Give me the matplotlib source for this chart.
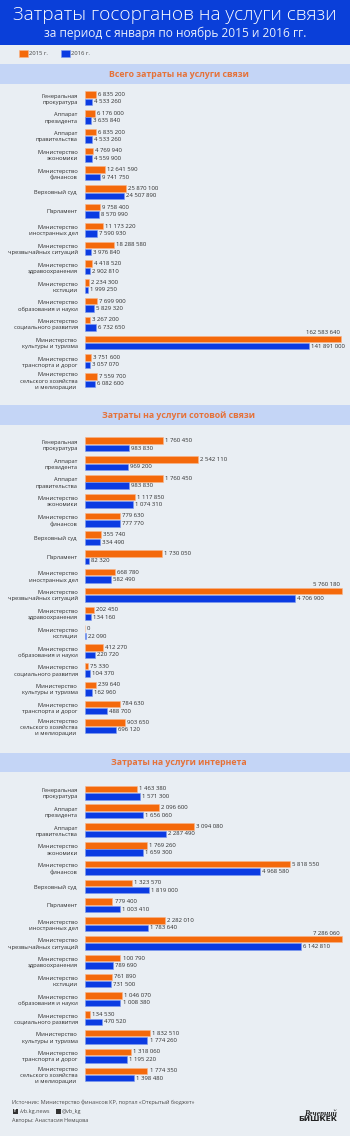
import matplotlib
matplotlib.use("Agg")
import matplotlib.pyplot as plt
from matplotlib.patches import Rectangle

W, H = 350, 1136
FONT = ["Open Sans", "DejaVu Sans"]
plt.rcParams["font.family"] = FONT

TITLE = "Затраты госорганов на услуги связи"
SUBTITLE = "за период с января по ноябрь 2015 и 2016 гг."
YEARS = ["2015 г.", "2016 г."]

AGENCIES = [
    "Генеральная\nпрокуратура", "Аппарат\nпрезидента", "Аппарат\nправительства",
    "Министерство\nэкономики", "Министерство\nфинансов", "Верховный суд ", "Парламент",
    "Министерство\nиностранных дел", "Министерство\nчрезвычайных ситуаций",
    "Министерство\nздравоохранения", "Министерство\nюстиции",
    "Министерство\nобразования и науки", "Министерство\nсоциального развития",
    "Министерство \nкультуры и туризма", "Министерство\nтранспорта и дорог",
    "Министерство\nсельского хозяйства\nи мелиорации ",
]

SECTION_TITLES = ["Всего затраты на услуги связи", "Затраты на услуги сотовой связи", "Затраты на услуги интернета"]

TOTAL_2015 = [6835200, 6176000, 6835200, 4769940, 12641590, 25870100, 9758400, 11173220,
              18288580, 4418520, 2234300, 7699900, 3267200, 162583640, 3751600, 7559700]
TOTAL_2016 = [4533260, 3635840, 4533260, 4559900, 9741750, 24507890, 8570990, 7590930,
              3976840, 2902810, 1999250, 5829320, 6732650, 141891000, 3057070, 6082600]

CELL_2015 = [1760450, 2542110, 1760450, 1117850, 779630, 355740, 1730050, 668780,
             5760180, 202450, 0, 412270, 75330, 239640, 784630, 903650]
CELL_2016 = [983830, 969200, 983830, 1074310, 777770, 334490, 82320, 582490,
             4706900, 134160, 22090, 220720, 104370, 162960, 488700, 696120]

NET_2015 = [1463380, 2096600, 3094080, 1769260, 5818550, 1323570, 779400, 2282010,
            7286060, 100790, 761890, 1046070, 134530, 1832510, 1318060, 1774350]
# the picture prints "100 790" for health but draws that bar about ten times longer
NET_2015_DRAWN = [1463380, 2096600, 3094080, 1769260, 5818550, 1323570, 779400, 2282010,
                  7286060, 1007900, 761890, 1046070, 134530, 1832510, 1318060, 1774350]
NET_2016 = [1571300, 1656060, 2287490, 1659300, 4968580, 1819000, 1003410, 1783640,
            6142810, 789690, 731500, 1008380, 470520, 1774260, 1195220, 1398480]

ORANGE, BLUE = "#F4690B", "#0B3BE2"
ORANGE_E, BLUE_E = "#F9B48A", "#7E9BEF"
BG, HEADER, BAND = "#E9EEF3", "#0A3FD9", "#C4D5F6"
TXT = "#2E2E2E"

fig = plt.figure(figsize=(W / 100, H / 100), dpi=100, facecolor=BG)

# page layer in pixel units
page = fig.add_axes([0, 0, 1, 1], zorder=0)
page.set_xlim(0, W)
page.set_ylim(H, 0)
page.axis("off")
page.add_patch(Rectangle((0, 0), W, 44.5, fc=HEADER, ec="none"))
page.text(175, 15.5, TITLE, color="white", fontsize=13.7, ha="center", va="center", fontweight="light")
page.text(175.5, 33.5, SUBTITLE, color="#E8EEFC", fontsize=8.55, ha="center", va="center")

BANDS = [(64, 84), (405, 425), (752.5, 772)]
for (y0, y1), t in zip(BANDS, SECTION_TITLES):
    page.add_patch(Rectangle((0, y0), W, y1 - y0, fc=BAND, ec="none"))
    page.text(178.7, (y0 + y1) / 2 + 0.3, t, color="#E5723A", fontsize=6.3, fontweight="bold", ha="center", va="center")


def fmt(v):
    return f"{v:,}".replace(",", " ")


def section(top, drawn15, drawn16, shown15, shown16):
    """top: pixel y of the centre of the first row; bars start at x=85, longest bar 256 px."""
    step = 18.79
    left, width = 85, 256.5
    y0 = top - step / 2
    y1 = y0 + step * 16
    ax = fig.add_axes([left / W, 1 - y1 / H, (W - left) / W, (y1 - y0) / H], zorder=1)
    ax.patch.set_alpha(0)
    xmax = max(drawn15 + drawn16)
    ax.set_xlim(0, xmax * (W - left) / width)
    ax.set_ylim(15.5, -0.5)
    for s in ax.spines.values():
        s.set_visible(False)
    ax.xaxis.set_visible(False)
    rows = list(range(16))
    off, h = 0.197, 0.345
    b1 = ax.barh([r - off for r in rows], drawn15, height=h, color=ORANGE, edgecolor=ORANGE_E, linewidth=0.4)
    b2 = ax.barh([r + off for r in rows], drawn16, height=h, color=BLUE, edgecolor=BLUE_E, linewidth=0.4)
    ax.set_yticks(rows)
    ax.set_yticklabels(AGENCIES, fontsize=4.15, color=TXT, ha="right", ma="right", linespacing=1.3, fontweight="medium")
    ax.tick_params(axis="y", length=0, pad=5.2)
    for r, (d15, d16, s15, s16) in enumerate(zip(drawn15, drawn16, shown15, shown16)):
        if d15 == xmax:
            ax.annotate(fmt(s15), (d15, r - off), xytext=(-1, 2.6), textcoords="offset points",
                        fontsize=4.35, color=TXT, ha="right", va="bottom", fontweight="medium")
        else:
            ax.annotate(fmt(s15), (d15, r - off), xytext=(1.5, 0), textcoords="offset points",
                        fontsize=4.35, color=TXT, ha="left", va="center", fontweight="medium")
        ax.annotate(fmt(s16), (d16, r + off), xytext=(1.5, 0), textcoords="offset points",
                    fontsize=4.35, color=TXT, ha="left", va="center", fontweight="medium", annotation_clip=False)
    return b1, b2


b1, b2 = section(98.2, TOTAL_2015, TOTAL_2016, TOTAL_2015, TOTAL_2016)
section(444.4, CELL_2015, CELL_2016, CELL_2015, CELL_2016)
section(792.6, NET_2015_DRAWN, NET_2016, NET_2015, NET_2016)

fig.legend([b1, b2], YEARS, loc="upper left", bbox_to_anchor=(19 / W, 1 - 49.5 / H), frameon=False, ncols=2,
           fontsize=4.2, handlelength=1.55, handleheight=1.55, handletextpad=0.2, columnspacing=2.2,
           borderpad=0, borderaxespad=0, labelcolor="#444444")

# footer
FT = "#4A4A4A"
page.text(12.5, 1102.5, "Источник: Министерство финансов КР, портал «Открытый бюджет»", fontsize=3.95, color=FT, va="center")
page.add_patch(Rectangle((12.5, 1108.5), 5, 5, fc="#333333", ec="none"))
page.text(15, 1111, "f", fontsize=3.6, color="white", ha="center", va="center", fontweight="bold")
page.text(19.5, 1111, "/vb.kg.news", fontsize=3.95, color=FT, va="center")
page.add_patch(Rectangle((55.5, 1108.5), 5, 5, fc="#333333", ec="none"))
page.text(62, 1111, "@vb_kg", fontsize=3.95, color=FT, va="center")
page.text(12, 1120, "Авторы: Анастасия Немцова", fontsize=3.95, color=FT, va="center")
page.text(337, 1113.5, "Вечерний", fontsize=5.6, color="#222222", ha="right", va="center", fontweight="bold",
          fontstyle="italic", family=["Liberation Serif", "DejaVu Serif"])
page.text(337, 1119.2, "БИШКЕК", fontsize=5.4, color="#222222", ha="right", va="center", fontweight="bold",
          family=["DejaVu Sans"])

fig.savefig("out.png", dpi=100, facecolor=BG)
